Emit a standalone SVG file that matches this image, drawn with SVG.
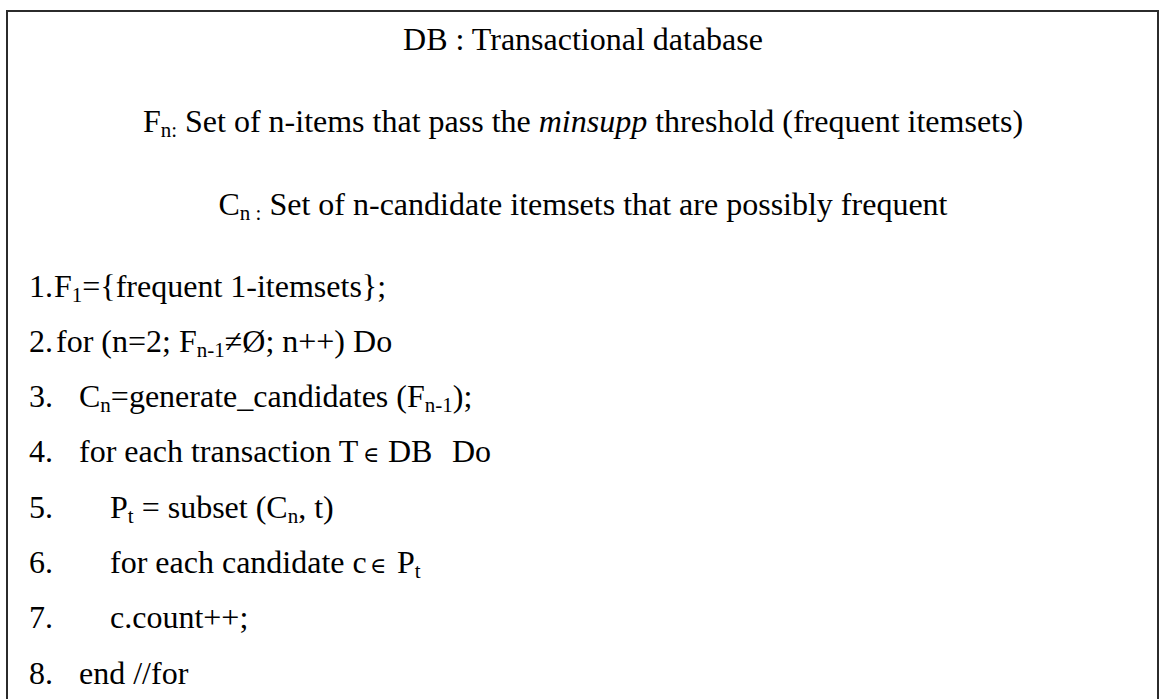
<svg xmlns="http://www.w3.org/2000/svg" width="1160" height="699" viewBox="0 0 1160 699">
  <style>
    text { font-family: "Liberation Serif", "DejaVu Serif", serif; font-size: 32px; fill: #000; }
    .c { text-anchor: middle; }
    .sub { font-size: 21px; }
    .sym { font-size: 22px; }
    .it { font-style: italic; }
    .frame { fill: #fff; stroke: #2b2b2b; stroke-width: 2; }
  </style>
  <rect width="1160" height="699" fill="#fff"/>
  <!-- outer frame, open at the bottom edge -->
  <rect class="frame" x="7" y="11" width="1151" height="720"/>

  <g id="definitions">
    <text class="c" x="583" y="50">DB : Transactional database</text>
    <text class="c" x="583" y="132">F<tspan class="sub" dy="5">n:</tspan><tspan dy="-5"> Set of n-items that pass the </tspan><tspan class="it">minsupp</tspan> threshold (frequent itemsets)</text>
    <text class="c" x="583" y="215">C<tspan class="sub" dy="5">n :</tspan><tspan dy="-5"> Set of n-candidate itemsets that are possibly frequent</tspan></text>
  </g>

  <g id="algorithm">
    <text x="29" y="297">1.<tspan x="54">F</tspan><tspan class="sub" dy="5">1</tspan><tspan dy="-5">={frequent 1-itemsets};</tspan></text>
    <text x="29" y="352">2.<tspan x="56">for (n=2; F</tspan><tspan class="sub" dy="5">n-1</tspan><tspan dy="-5">≠Ø; n++) Do</tspan></text>
    <text x="29" y="407">3.<tspan x="79">C</tspan><tspan class="sub" dy="5">n</tspan><tspan dy="-5">=generate_candidates (F</tspan><tspan class="sub" dy="5">n-1</tspan><tspan dy="-5">);</tspan></text>
    <text x="29" y="462">4.<tspan x="79">for each transaction T</tspan><tspan class="sym" x="363">∈</tspan><tspan x="388">DB</tspan><tspan x="452">Do</tspan></text>
    <text x="29" y="518">5.<tspan x="110">P</tspan><tspan class="sub" dy="5">t</tspan><tspan dy="-5"> = subset (C</tspan><tspan class="sub" dy="5">n</tspan><tspan dy="-5">, t)</tspan></text>
    <text x="29" y="573">6.<tspan x="110">for each candidate c</tspan><tspan class="sym" x="370">∈</tspan><tspan x="397">P</tspan><tspan class="sub" dy="5">t</tspan></text>
    <text x="29" y="628">7.<tspan x="110">c.count++;</tspan></text>
    <text x="29" y="684">8.<tspan x="79">end //for</tspan></text>
  </g>
</svg>
